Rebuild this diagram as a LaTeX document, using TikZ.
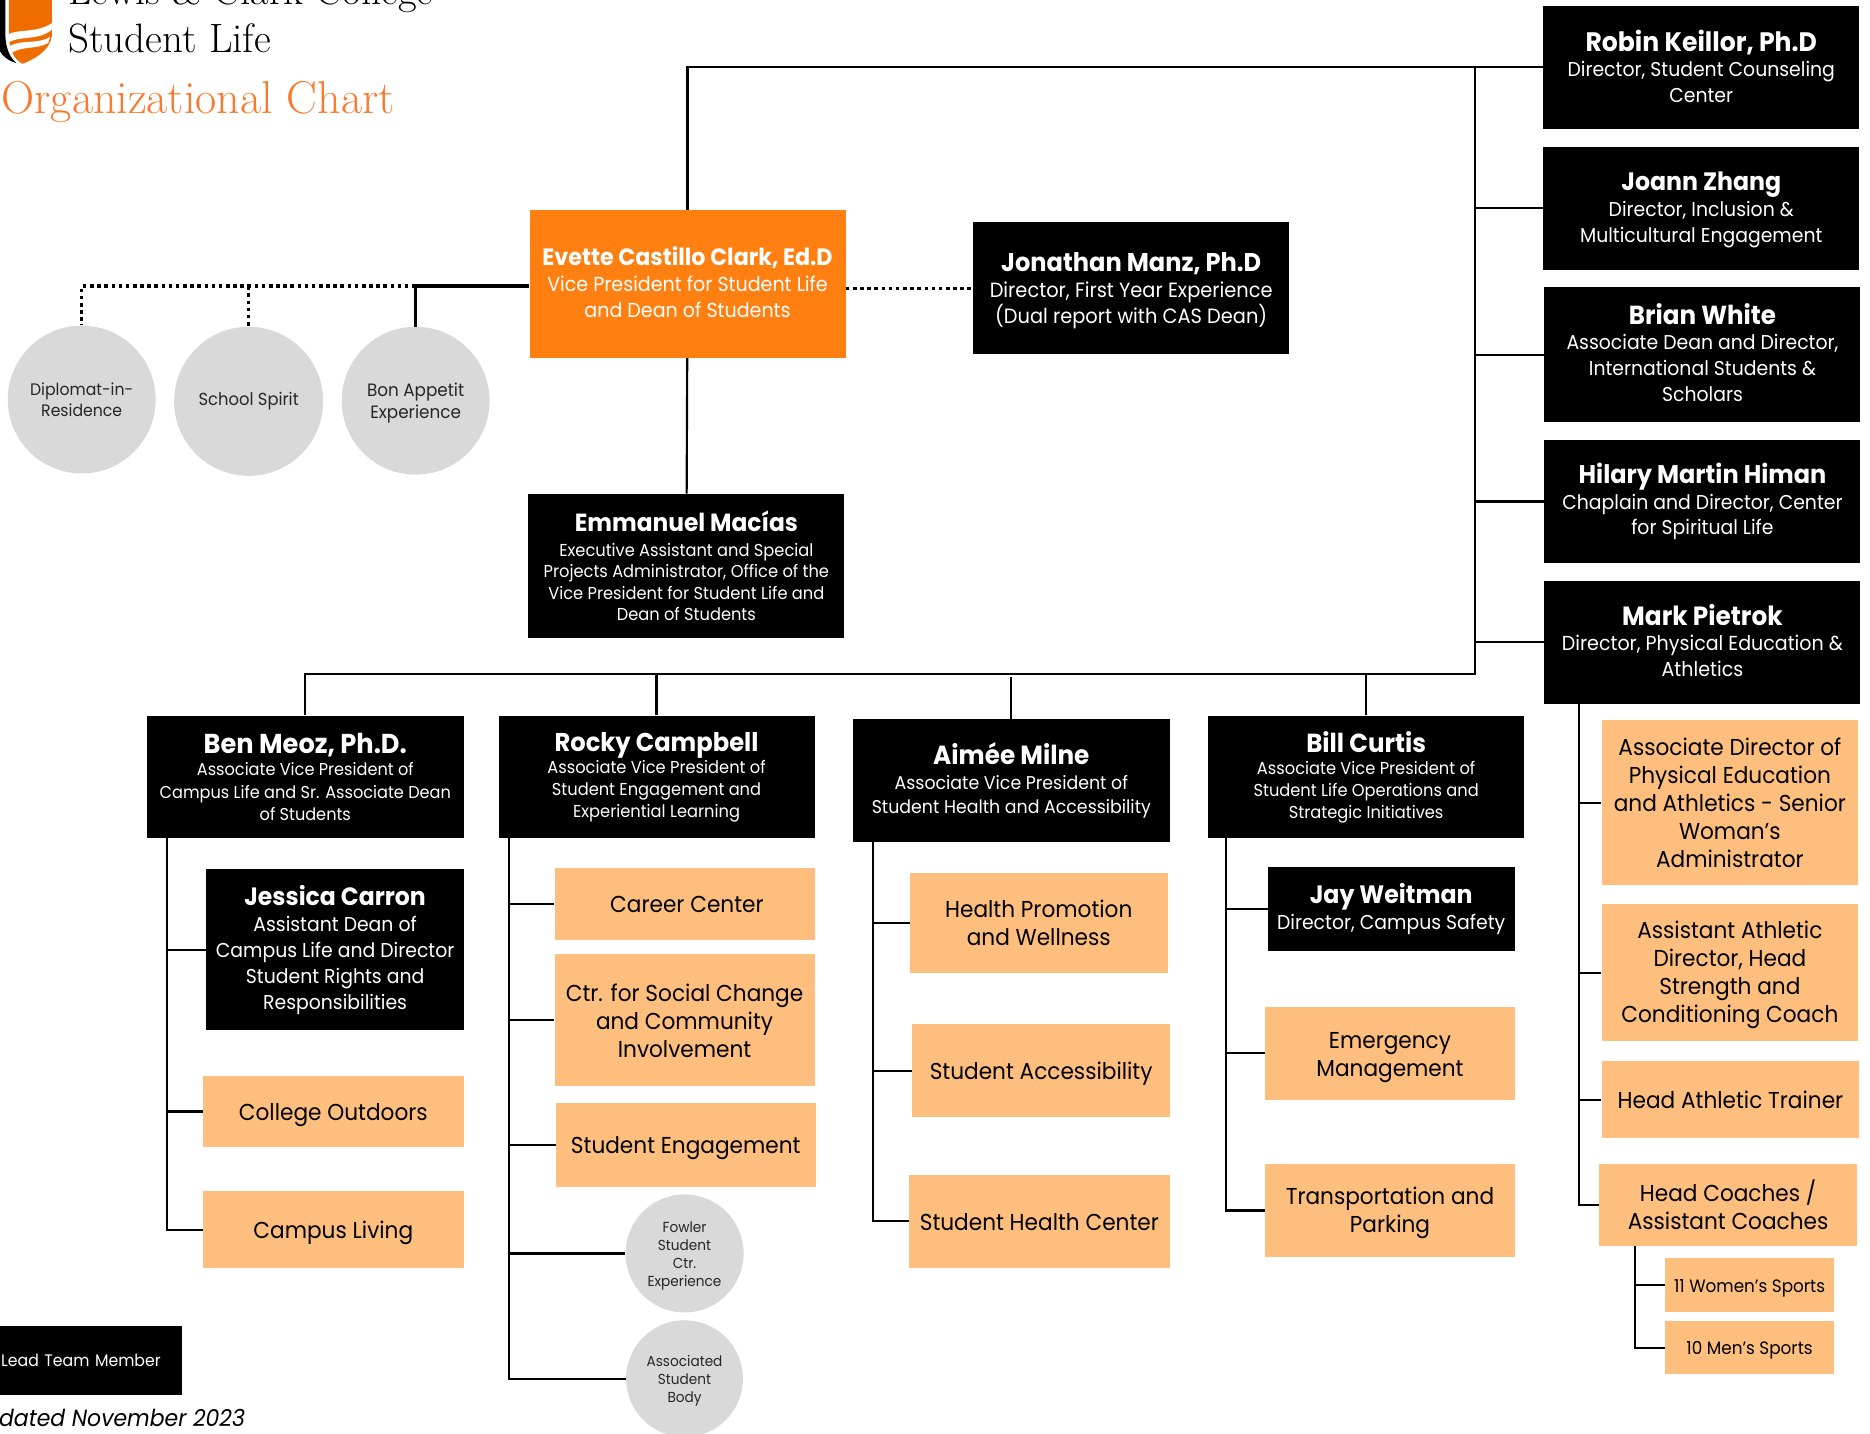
\documentclass[tikz,border=0pt]{standalone}
\usepackage{fontspec}
\setsansfont{Poppins}[FakeStretch=0.94]
\usetikzlibrary{positioning}
\definecolor{deanorange}{HTML}{FF7F11}
\definecolor{unitorange}{HTML}{FEBE7E}
\definecolor{titleorange}{HTML}{F97A2E}
\definecolor{shieldorange}{HTML}{EF6C00}
\definecolor{circlegray}{HTML}{D9D9D9}
\newcommand{\sz}[2]{\sffamily\fontsize{#1}{#2}\selectfont}
\newcommand{\nm}[2][22]{{\fontsize{#1}{#1}\selectfont\bfseries #2}}
% struts that move a text block inside its box
\newcommand{\dn}[1]{\rule{0pt}{#1pt}}
\newcommand{\up}[1]{\rule[-#1pt]{0pt}{1pt}}
\tikzset{
  leadbox/.style={fill=black,text=white,align=center,inner sep=0pt,font=\sz{16.8}{21.7}},
  unitbox/.style={fill=unitorange,text=black,align=center,inner sep=0pt,font=\sz{19.3}{23.5}},
  oneline/.style={text height=18pt,text depth=3pt},
  roundbox/.style={circle,fill=circlegray,text=black!85,align=center,inner sep=0pt,font=\sz{15}{18}},
  link/.style={line width=1.8pt},
  heavy/.style={line width=3pt},
  dots/.style={line width=3pt,dash pattern=on 3pt off 3pt}
}
\begin{document}
\begin{tikzpicture}[x=1pt,y=-1pt]
      \useasboundingbox (0,0) rectangle (1568,1202.4);
      % logo and titles
      \fill[black] (0,0) -- (4.5,0) -- (4.5,30) .. controls (5,42) and (9,49) .. (14,53) .. controls (7,51) and (2,47) .. (0,43) -- cycle;
      \fill[shieldorange] (7.5,0) -- (43.5,0) -- (43.5,30) .. controls (42,42) and (30,49) .. (19,53.5) .. controls (12,50) and (7.5,42) .. (7.5,30) -- cycle;
      \fill[white] (6,29) .. controls (16,24) and (30,28) .. (43.5,19.5) -- (43.5,25) .. controls (30,35) and (18,29) .. (6.5,36) -- cycle;
      \fill[white] (7,39.5) .. controls (18,32) and (30,38) .. (42,31) -- (40.5,36) .. controls (30,42) and (18,38) .. (9,45) -- cycle;
      \draw
        (57,4) node[anchor=base west,inner sep=0pt,font=\fontsize{34}{34}\selectfont] (college){Lewis \& Clark College}
        (57,44) node[anchor=base west,inner sep=0pt,font=\fontsize{34.4}{34}\selectfont] (life){Student Life}
        (1,95) node[anchor=base west,inner sep=0pt,text=titleorange,font=\fontsize{38.6}{38}\selectfont] (chart){Organizational Chart}
        (-1,1196) node[anchor=base west,inner sep=0pt,font=\sz{19.6}{22}\itshape] (updated){dated November 2023};
      % people
      \draw
        (1426.5,56.5) node[leadbox,minimum width=265,minimum height=103] (robin){\nm[22.4]{Robin Keillor, Ph.D}\\Director, Student Counseling\\Center\up{2}}
        (1426.5,174.5) node[leadbox,minimum width=265,minimum height=103] (joann){\dn{19}\nm[21.1]{Joann Zhang}\\Director, Inclusion \&\\Multicultural Engagement}
        (1427.5,297.5) node[leadbox,minimum width=265,minimum height=113] (brian){\nm[21.9]{Brian White}\\Associate Dean and Director,\\International Students \&\\Scholars\up{4}}
        (1427.5,420.5) node[leadbox,minimum width=265,minimum height=103] (hilary){\nm[21.4]{Hilary Martin Himan}\\Chaplain and Director, Center\\for Spiritual Life}
        (1427.5,538.5) node[leadbox,minimum width=265,minimum height=103,font=\sz{17}{21.7}] (mark){\nm[22.1]{Mark Pietrok}\\Director, Physical Education \&\\Athletics\up{3}}
        (576.5,238) node[leadbox,fill=deanorange,minimum width=265,minimum height=124,font=\sz{17}{21.7}] (evette){\nm[19.8]{Evette Castillo Clark, Ed.D}\\Vice President for Student Life\\and Dean of Students\up{3}}
        (948.5,241.5) node[leadbox,minimum width=265,minimum height=111,font=\sz{17.3}{21.7}] (jonathan){\dn{21}\nm[21.5]{Jonathan Manz, Ph.D}\\Director, First Year Experience\\(Dual report with CAS Dean)}
        (575.5,474.5) node[leadbox,minimum width=265,minimum height=121,font=\sz{14.5}{18}] (emmanuel){\nm[20.8]{Emmanuel Mac\'{i}as}\\[3pt]Executive Assistant and Special\\Projects Administrator, Office of the\\Vice President for Student Life and\\Dean of Students}
        (256,651.5) node[leadbox,minimum width=266,minimum height=103,font=\sz{14.4}{18.5}] (ben){\nm[22.9]{Ben Meoz, Ph.D.}\\Associate Vice President of\\Campus Life and Sr. Associate Dean\\of Students}
        (550.5,651.5) node[leadbox,minimum width=265,minimum height=103,font=\sz{14.5}{18.5}] (rocky){\nm[21.6]{Rocky Campbell}\\Associate Vice President of\\Student Engagement and\\Experiential Learning}
        (848,654.5) node[leadbox,minimum width=266,minimum height=103,font=\sz{15.5}{20.5}] (aimee){\nm{Aim\'{e}e Milne}\\Associate Vice President of\\Student Health and Accessibility}
        (1145.5,651.5) node[leadbox,minimum width=265,minimum height=103,font=\sz{14.5}{18.5}] (bill){\nm[21.9]{Bill Curtis}\\Associate Vice President of\\Student Life Operations and\\Strategic Initiatives}
        (281,796.5) node[leadbox,minimum width=216,minimum height=135] (jessica){\nm[21]{Jessica Carron}\\Assistant Dean of\\Campus Life and Director\\Student Rights and\\Responsibilities}
        (1166.5,762) node[leadbox,minimum width=207,minimum height=70] (jay){\nm[21.1]{Jay Weitman}\\Director, Campus Safety}
        (76.5,1141) node[leadbox,minimum width=153,minimum height=58,text width=151,align=left,font=\sz{14}{18}] (legend){Lead Team Member};
      % units
      \draw
        (279.5,932) node[unitbox,oneline,minimum width=219,minimum height=60] (outdoors){College Outdoors}
        (279.5,1031) node[unitbox,oneline,minimum width=219,minimum height=64] (living){Campus Living}
        (574,758) node[unitbox,oneline,minimum width=218,minimum height=60] (career){\hspace{4pt}Career Center}
        (574,855.5) node[unitbox,minimum width=218,minimum height=111] (social){\dn{16}Ctr. for Social Change\\and Community\\Involvement}
        (575,960) node[unitbox,oneline,minimum width=218,minimum height=70] (engage){Student Engagement}
        (871,774) node[unitbox,minimum width=216,minimum height=84] (wellness){Health Promotion\\and Wellness}
        (873,898) node[unitbox,oneline,minimum width=216,minimum height=78] (access){Student Accessibility}
        (871.5,1024) node[unitbox,oneline,minimum width=219,minimum height=78] (health){Student Health Center}
        (1165.5,883) node[unitbox,minimum width=209,minimum height=78] (emergency){\dn{21}Emergency\\Management}
        (1165.5,1015) node[unitbox,minimum width=209,minimum height=78] (parking){\dn{18}Transportation and\\Parking}
        (1450.5,673) node[unitbox,minimum width=215,minimum height=138] (assocath){Associate Director of\\Physical Education\\and Athletics - Senior\\Woman's\\Administrator}
        (1450.5,815.5) node[unitbox,minimum width=215,minimum height=115] (strength){\dn{18}Assistant Athletic\\Director, Head\\Strength and\\Conditioning Coach}
        (1451,922) node[unitbox,oneline,minimum width=216,minimum height=64] (trainer){Head Athletic Trainer}
        (1449,1010.5) node[unitbox,minimum width=216,minimum height=69] (coaches){Head Coaches /\\Assistant Coaches}
        (1467,1077.5) node[unitbox,text height=15pt,text depth=3pt,minimum width=142,minimum height=45,font=\sz{15}{18}] (women){11 Women's Sports}
        (1467,1130) node[unitbox,text height=15pt,text depth=3pt,minimum width=142,minimum height=44,font=\sz{15}{18}] (men){10 Men's Sports};
      % round items
      \draw
        (68.5,335) node[roundbox,minimum size=124,font=\sz{14}{18}] (diplomat){Diplomat-in-\\Residence}
        (208.5,336.5) node[roundbox,minimum size=125,font=\sz{14.6}{18}] (spirit){School Spirit}
        (348.5,336) node[roundbox,minimum size=124] (bon){\dn{15}Bon Appetit\\Experience}
        (574,1051) node[roundbox,minimum size=99,font=\sz{12.2}{15}] (fowler){\dn{13}Fowler\\Student\\Ctr.\\Experience}
        (574,1156) node[roundbox,minimum size=98,font=\sz{12.2}{15}] (asb){\dn{13}Associated\\Student\\Body};
      % trunk points
      \coordinate (rail) at (1237,56.5);
      \coordinate (railfoot) at (1237,565);
      \coordinate (aimeetop) at (848,568);
      \coordinate (benfoot) at (140,703);
      \coordinate (rockyfoot) at (427,703);
      \coordinate (aimeefoot) at (732,706);
      \coordinate (billfoot) at (1028,703);
      \coordinate (markfoot) at (1324,590);
      \coordinate (coachfoot) at (1371,1045);
      \begin{scope}[link]
        \draw (evette) |- (robin);
        \draw (rail) -- (railfoot) -| (ben);
        \draw (rail) |- (joann);
        \draw (rail) |- (brian);
        \draw (rail) |- (hilary);
        \draw (rail) |- (mark);
        \draw (evette) -- (emmanuel);
        \draw (railfoot -| rocky) -- (rocky);
        \draw (aimeetop) -- (aimee);
        \draw (railfoot -| bill) -- (bill);
        \draw (benfoot) |- (jessica);
        \draw (benfoot) |- (outdoors);
        \draw (benfoot) |- (living);
        \draw (rockyfoot) |- (career);
        \draw (rockyfoot) |- (social);
        \draw (rockyfoot) |- (engage);
        \draw (rockyfoot) |- (fowler);
        \draw (rockyfoot) |- (asb);
        \draw (aimeefoot) |- (wellness);
        \draw (aimeefoot) |- (access);
        \draw (aimeefoot) |- (health);
        \draw (billfoot) |- (jay);
        \draw (billfoot) |- (emergency);
        \draw (billfoot) |- (parking);
        \draw (markfoot) |- (assocath);
        \draw (markfoot) |- (strength);
        \draw (markfoot) |- (trainer);
        \draw (markfoot) |- (coaches);
        \draw (coachfoot) |- (women);
        \draw (coachfoot) |- (men);
      \end{scope}
      \draw[heavy] (evette.west |- 444,240) -| (bon);
      \draw[dots] (bon.north |- 444,240) -| (diplomat);
      \draw[dots] (spirit.north |- 444,240) -- (spirit);
      \draw[dots] (evette.east |- 709,242) -- (jonathan.west |- 816,242);
    \end{tikzpicture}
\end{document}
